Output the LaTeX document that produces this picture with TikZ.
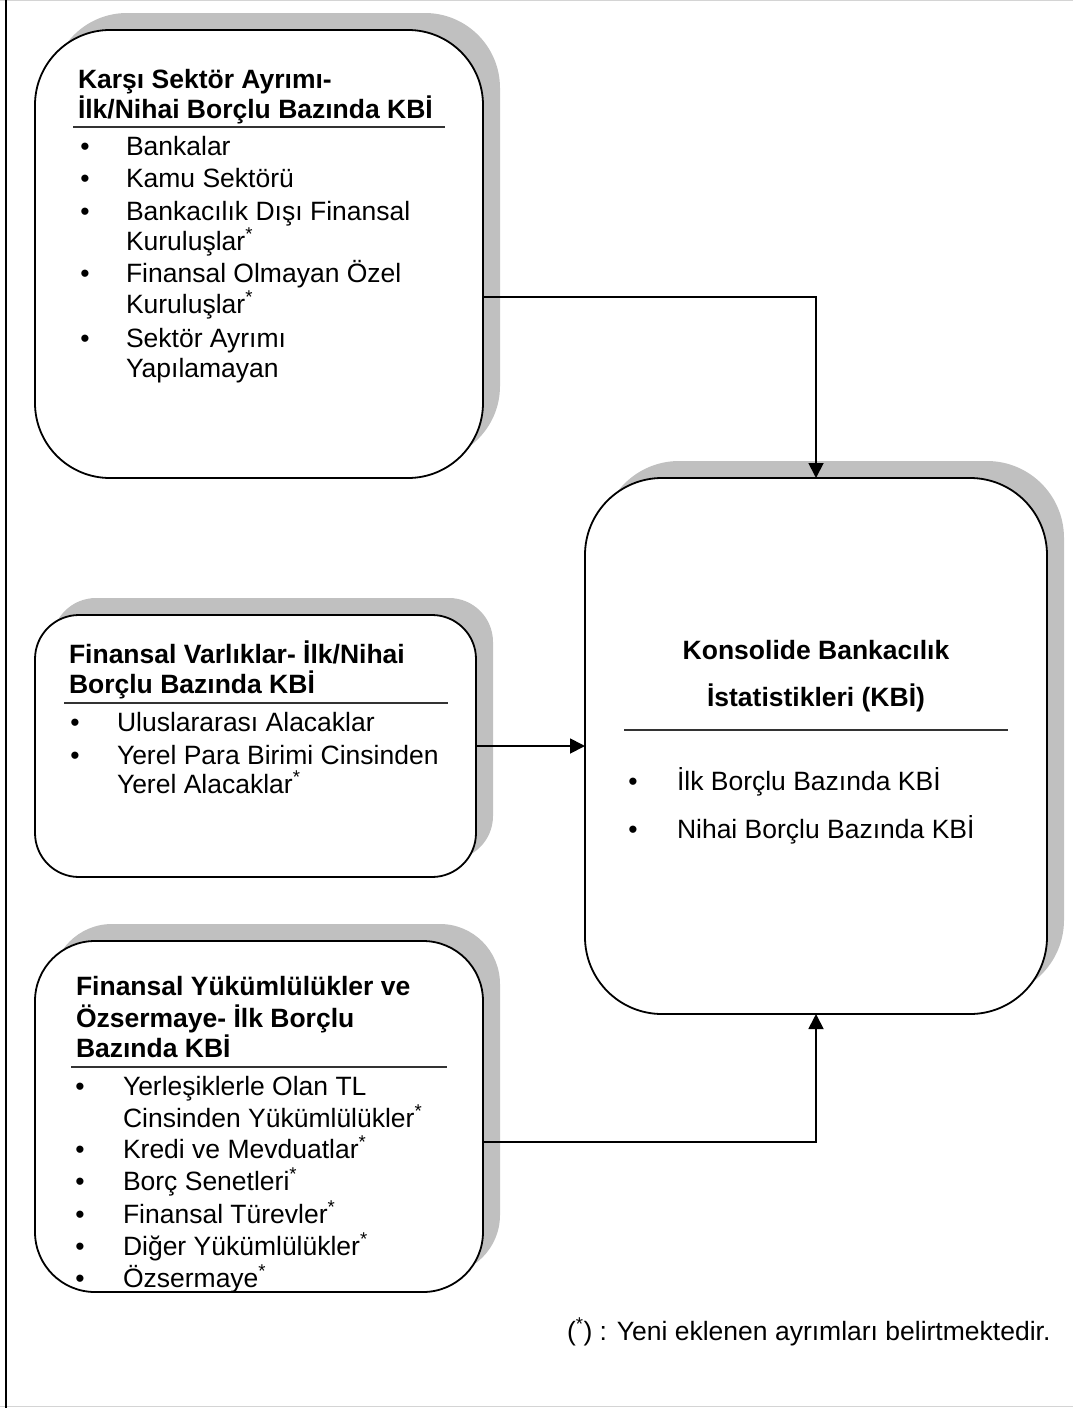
\documentclass[tikz,border=0pt]{standalone}
\usepackage{fontspec}
\setmainfont{Liberation Sans}
\usetikzlibrary{arrows.meta,shadows}
\definecolor{shadowgray}{HTML}{C0C0C0}
\definecolor{framegray}{HTML}{D4D4D4}
\newcommand\stsup{\textsuperscript{*}}
\begin{document}
\begin{tikzpicture}[x=1pt,y=-1pt,
  box/.style={draw=black, line width=1.8pt, fill=white, rounded corners=#1,
    inner sep=0pt, outer sep=0pt,
    general shadow={fill=shadowgray, shadow xshift=17pt, shadow yshift=17pt}},
  txt/.style={anchor=base west, inner sep=0pt, outer sep=0pt,
    font=\fontsize{26.5}{32}\selectfont},
  ttl/.style={txt, font=\fontsize{26.5}{32}\selectfont\bfseries},
  cttl/.style={ttl, anchor=base},
  bul/.style={anchor=base, inner sep=0pt, outer sep=0pt,
    font=\fontsize{26.5}{32}\selectfont},
  rulel/.style={draw=black!80, line width=1.6pt},
  conn/.style={draw=black, line width=1.8pt, -{Triangle[length=15pt,width=15pt]}}
]
\useasboundingbox (0,0) rectangle (1073,1408);
% outer frame
\draw[framegray, line width=1pt] (0,0.5) -- (1073,0.5);
\draw[framegray, line width=1pt] (0,1406.5) -- (1073,1406.5);
\draw[black, line width=2pt] (6,0) -- (6,1408);

% boxes
\node[box=75pt, minimum width=448pt, minimum height=448pt] (b1) at (259,254) {};
\node[box=44pt, minimum width=441pt, minimum height=262pt] (b2) at (255.5,746) {};
\node[box=60pt, minimum width=448pt, minimum height=351pt] (b3) at (259,1116.5) {};
\node[box=77pt, minimum width=462pt, minimum height=536pt] (b4) at (816,746) {};

% box 1 text
\node[ttl] (t1a) at (78,88) {Karşı Sektör Ayrımı-};
\node[ttl] (t1b) at (78,118) {İlk/Nihai Borçlu Bazında KBİ};
\draw[rulel] (73,127) -- (445,127);
\node[bul] (p11) at (85,155) {•}; \node[txt] (s11) at (126,155) {Bankalar};
\node[bul] (p12) at (85,187) {•}; \node[txt] (s12) at (126,187) {Kamu Sektörü};
\node[bul] (p13) at (85,220) {•}; \node[txt] (s13) at (126,220) {Bankacılık Dışı Finansal};
\node[txt] (s13b) at (126,250) {Kuruluşlar\stsup};
\node[bul] (p14) at (85,282) {•}; \node[txt] (s14) at (126,282) {Finansal Olmayan Özel};
\node[txt] (s14b) at (126,313) {Kuruluşlar\stsup};
\node[bul] (p15) at (85,347) {•}; \node[txt] (s15) at (126,347) {Sektör Ayrımı};
\node[txt] (s15b) at (126,377) {Yapılamayan};

% box 2 text
\node[ttl] (t2a) at (69,663) {Finansal Varlıklar- İlk/Nihai};
\node[ttl] (t2b) at (69,693) {Borçlu Bazında KBİ};
\draw[rulel] (64,703) -- (448,703);
\node[bul] (p21) at (75,731) {•}; \node[txt] (s21) at (117,731) {Uluslararası Alacaklar};
\node[bul] (p22) at (75,764) {•}; \node[txt] (s22) at (117,764) {Yerel Para Birimi Cinsinden};
\node[txt] (s22b) at (117,793) {Yerel Alacaklar\stsup};

% box 3 text
\node[ttl] (t3a) at (76,995) {Finansal Yükümlülükler ve};
\node[ttl] (t3b) at (76,1027) {Özsermaye- İlk Borçlu};
\node[ttl] (t3c) at (76,1057) {Bazında KBİ};
\draw[rulel] (71,1067) -- (447,1067);
\node[bul] (p31) at (80,1095) {•}; \node[txt] (s31) at (123,1095) {Yerleşiklerle Olan TL};
\node[txt] (s31b) at (123,1127) {Cinsinden Yükümlülükler\stsup};
\node[bul] (p32) at (80,1158) {•}; \node[txt] (s32) at (123,1158) {Kredi ve Mevduatlar\stsup};
\node[bul] (p33) at (80,1190) {•}; \node[txt] (s33) at (123,1190) {Borç Senetleri\stsup};
\node[bul] (p34) at (80,1223) {•}; \node[txt] (s34) at (123,1223) {Finansal Türevler\stsup};
\node[bul] (p35) at (80,1255) {•}; \node[txt] (s35) at (123,1255) {Diğer Yükümlülükler\stsup};
\node[bul] (p36) at (80,1287) {•}; \node[txt] (s36) at (123,1287) {Özsermaye\stsup};

% box 4 text
\node[cttl] (t4a) at (816,659) {Konsolide Bankacılık};
\node[cttl] (t4b) at (816,706) {İstatistikleri (KBİ)};
\draw[rulel] (624,730) -- (1008,730);
\node[bul] (p41) at (633,790) {•}; \node[txt] (s41) at (677,790) {İlk Borçlu Bazında KBİ};
\node[bul] (p42) at (633,838) {•}; \node[txt] (s42) at (677,838) {Nihai Borçlu Bazında KBİ};

% footnote
\node[txt] (fn) at (567,1340) {(\stsup) : Yeni eklenen ayrımları belirtmektedir.};

% connectors
\draw[conn] ([yshift=-43pt]b1.east) -| (b4.north);
\draw[conn] (b2.east) -- (b2.east -| b4.west);
\draw[conn] ([yshift=-25.5pt]b3.east) -| (b4.south);
\end{tikzpicture}
\end{document}
